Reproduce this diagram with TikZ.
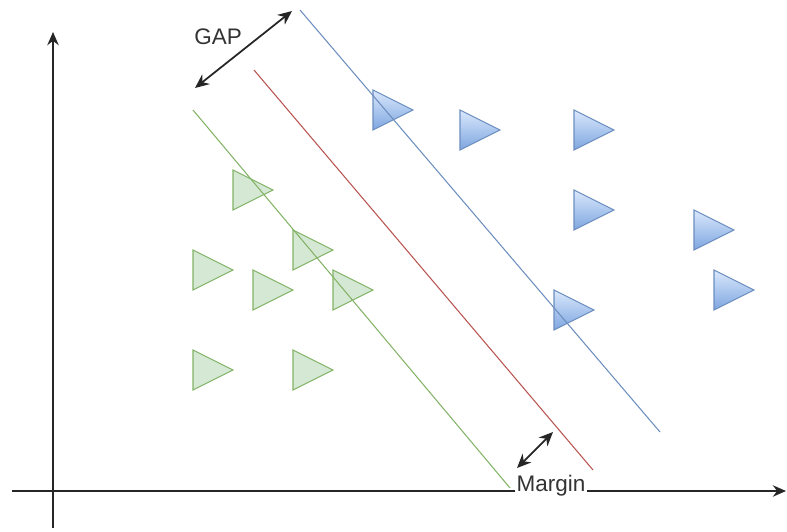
\documentclass[tikz,border=0pt]{standalone}
\usepackage{fontspec}
\setmainfont{Liberation Sans}
\usetikzlibrary{arrows.meta}
\definecolor{svmgreenfill}{HTML}{D5E8D4}
\definecolor{svmgreendraw}{HTML}{82B366}
\definecolor{svmbluetop}{HTML}{DAE8FC}
\definecolor{svmbluebot}{HTML}{7EA6E0}
\definecolor{svmbluedraw}{HTML}{6C8EBF}
\definecolor{svmred}{HTML}{B85450}
\begin{document}
\begin{tikzpicture}[
  x=0.02cm, y=-0.02cm,
  svmaxis/.style = {-{Stealth[length=7.5pt,width=6.5pt]}, line width=1pt, black!85},
  svmgap/.style = {{Stealth[length=8pt,width=7pt]}-{Stealth[length=8pt,width=7pt]}, line width=1pt, black!85},
  svmline/.style = {line width=0.6pt},
  svmgreen/.style = {draw=svmgreendraw, fill=svmgreenfill, line width=0.6pt},
  svmblue/.style = {draw=svmbluedraw, top color=svmbluetop, bottom color=svmbluebot, line width=0.6pt},
  svmlbl/.style = {font=\fontsize{12.8}{15}\selectfont, text=black!80, inner sep=1pt}
]
  \useasboundingbox (0,0) rectangle (787,531);
  % triangles of both classes
  \foreach \x/\y in {233/170, 293/230, 193/250, 253/270, 333/270, 193/350, 293/350} {
    \draw[svmgreen] (\x,\y) -- ++(0,40) -- ++(40,-20) -- cycle;
  }
  \foreach \x/\y in {373/90, 460/110, 574/110, 574/190, 694/210, 714/270, 554/290} {
    \draw[svmblue] (\x,\y) -- ++(0,40) -- ++(40,-20) -- cycle;
  }
  % separating lines
  \coordinate (greenA) at (193,110);
  \coordinate (greenB) at (510,488);
  \coordinate (redA) at (254,70);
  \coordinate (redB) at (593,470);
  \coordinate (blueA) at (300,10);
  \coordinate (blueB) at (660,432);
  \draw[svmline, svmgreendraw] (greenA) -- (greenB);
  \draw[svmline, svmred] (redA) -- (redB);
  \draw[svmline, svmbluedraw] (blueA) -- (blueB);
  % axes
  \coordinate (yaxisA) at (53,528);
  \coordinate (yaxisB) at (53,32);
  \coordinate (xaxisA) at (12,491);
  \coordinate (xaxisB) at (786,491);
  \draw[svmaxis] (yaxisA) -- (yaxisB);
  \draw[svmaxis] (xaxisA) -- (xaxisB);
  % gap and margin
  \coordinate (gapA) at (195,88);
  \coordinate (gapB) at (292,11);
  \draw[svmgap] (gapA) -- (gapB);
  \node[svmlbl] (gaplbl) at (218,37) {GAP};
  \coordinate (marginA) at (517,468);
  \coordinate (marginB) at (553,432);
  \draw[svmgap] (marginA) -- (marginB);
  \node[svmlbl, fill=white] (marginlbl) at (551,486) {Margin};
\end{tikzpicture}
\end{document}
